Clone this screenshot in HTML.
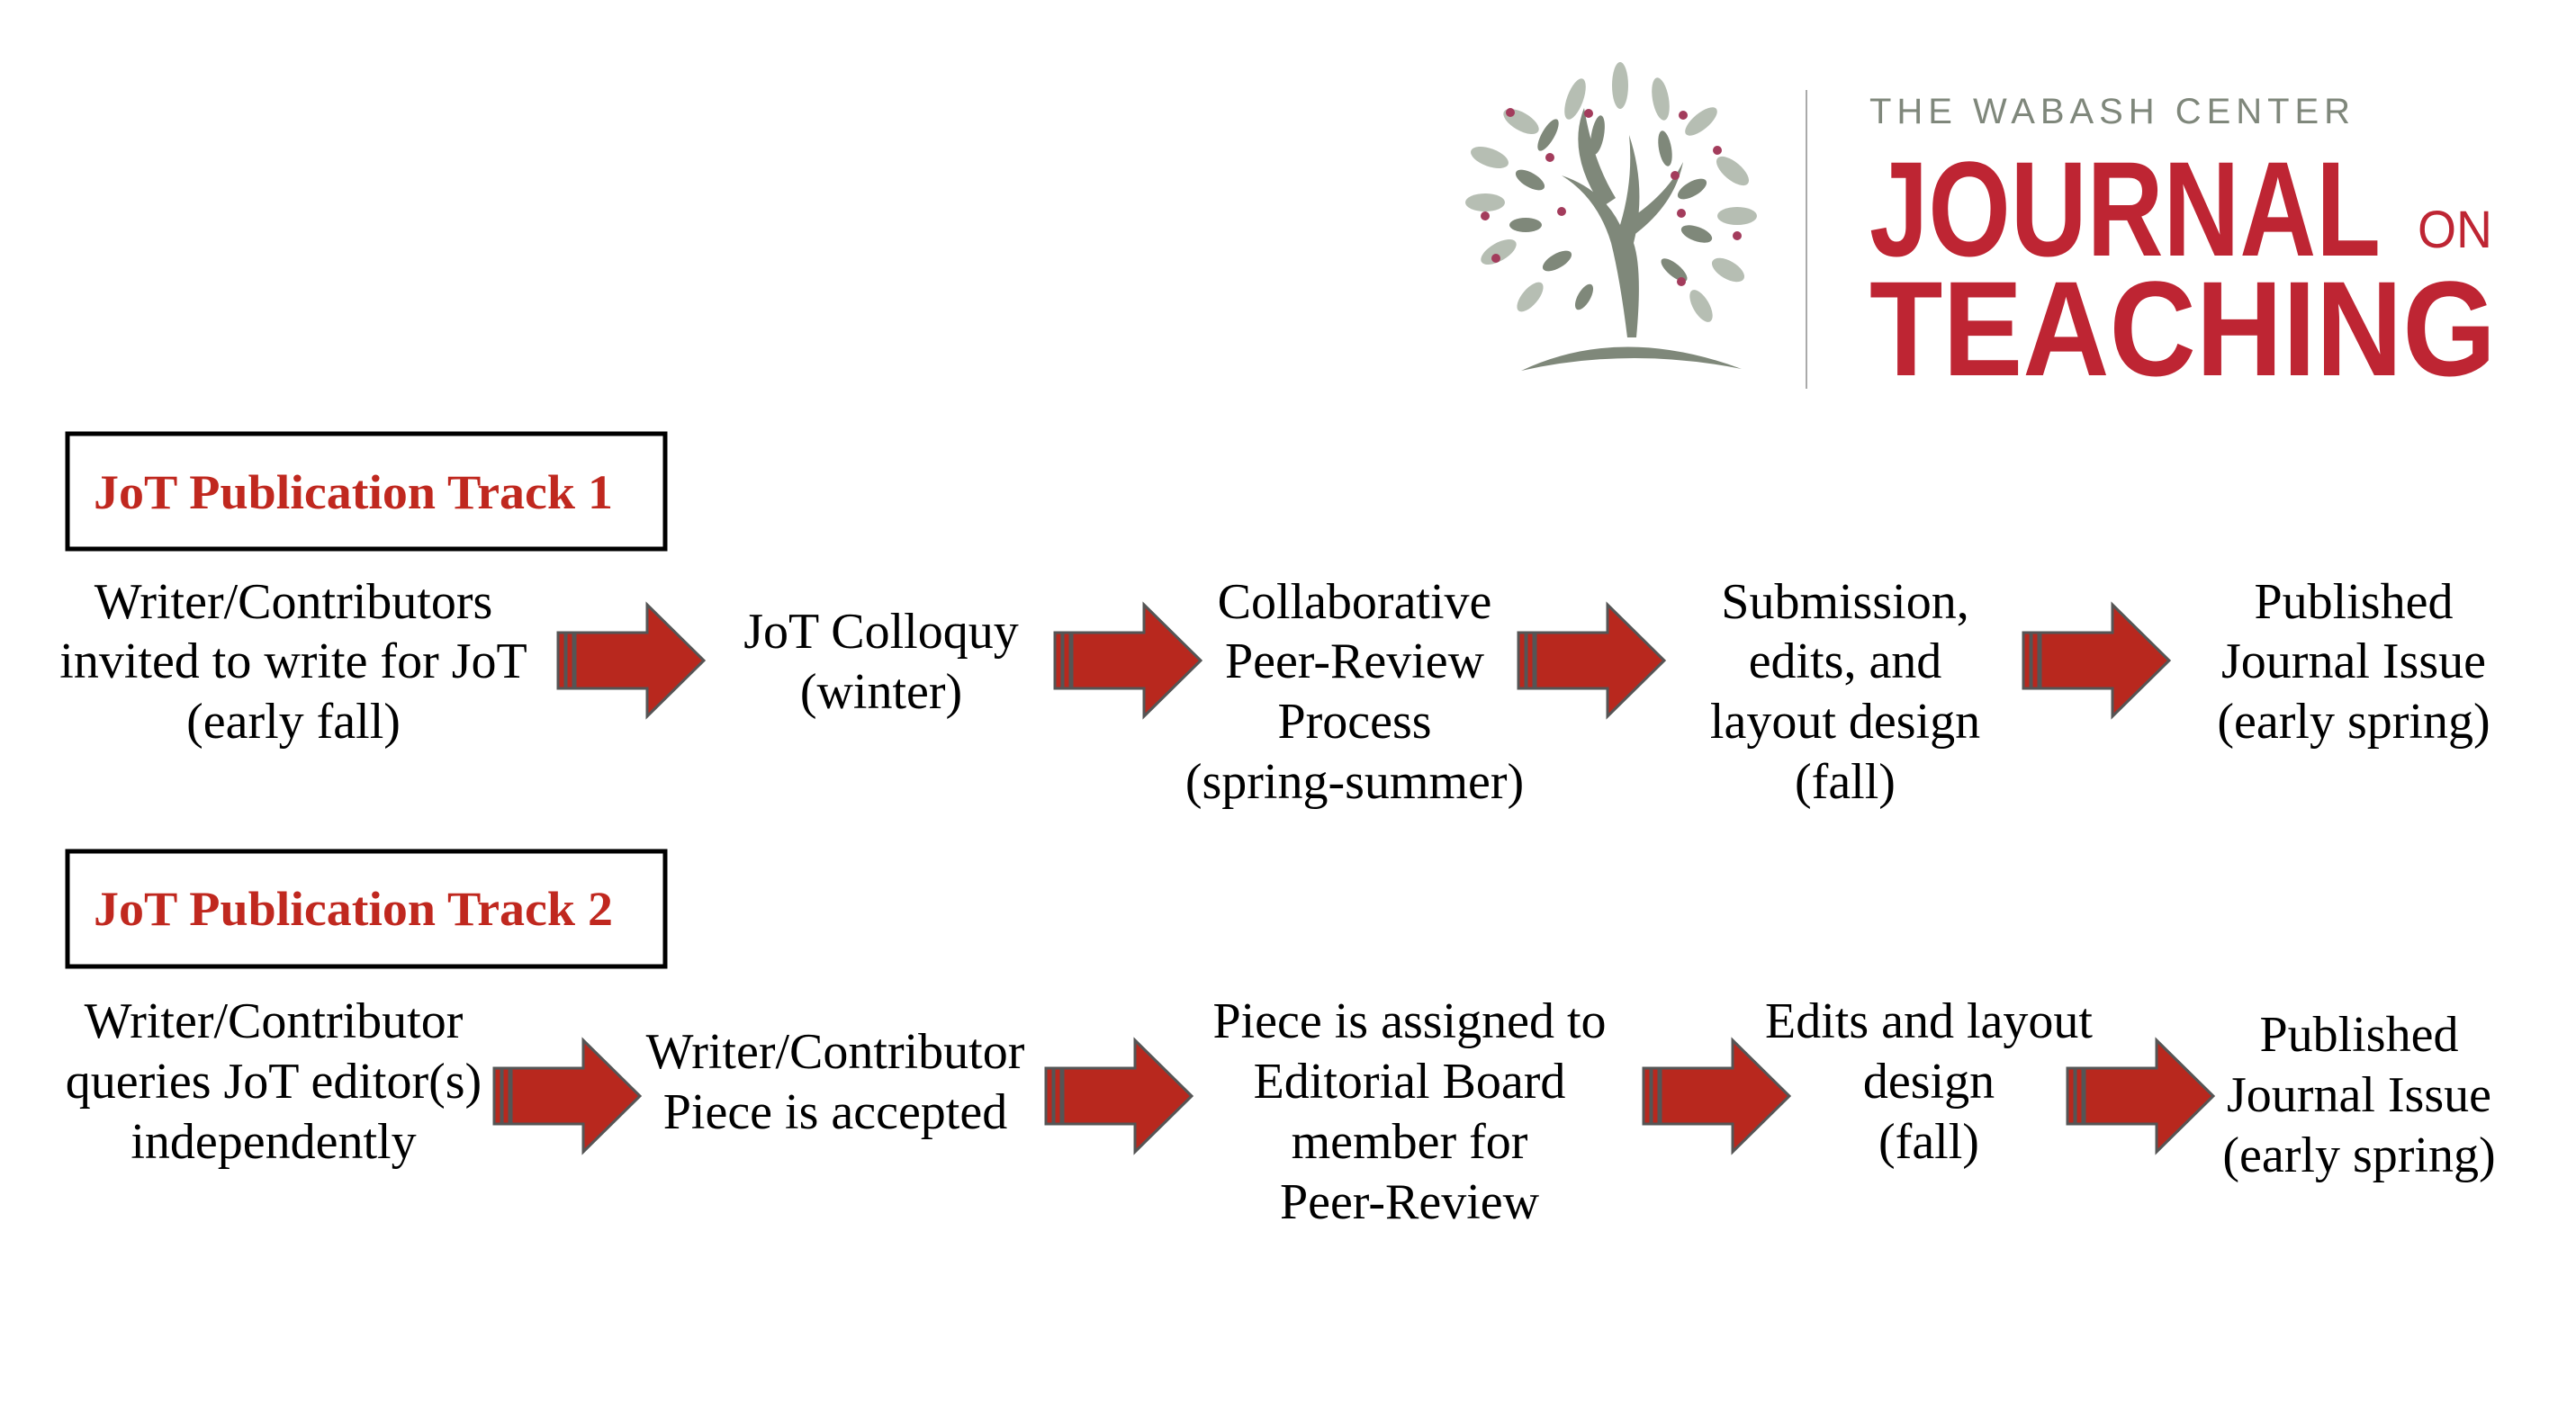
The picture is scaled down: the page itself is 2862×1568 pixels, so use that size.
<!DOCTYPE html>
<html><head><meta charset="utf-8"><style>
html,body{margin:0;padding:0;background:#fff;}
svg{display:block;}
.t{font-family:"Liberation Serif",serif;font-size:56px;fill:#000;text-anchor:middle;}
.h{font-family:"Liberation Serif",serif;font-size:54px;font-weight:bold;fill:#c0281f;}
</style></head><body>
<svg width="2862" height="1568" viewBox="0 0 2862 1568" xmlns="http://www.w3.org/2000/svg">
<defs>
<g id="arr">
<rect x="0" y="-31" width="8" height="62" fill="#b8281e" stroke="#555" stroke-width="3"/>
<rect x="9" y="-31" width="8" height="62" fill="#b8281e" stroke="#555" stroke-width="3"/>
<polygon points="19,-31 99,-31 99,-62 162,0 99,62 99,31 19,31" fill="#b8281e" stroke="#555" stroke-width="3"/>
</g>
</defs>
<!-- logo -->
<g>
<path d="M1690 412 Q1800 360 1935 410 Q1810 385 1690 412Z" fill="#7f887a"/>
<path d="M1808 375 Q1800 310 1790 270 Q1775 220 1735 195 Q1780 210 1800 250 Q1815 200 1810 150 Q1830 210 1815 270 Q1825 300 1818 375Z" fill="#7f887a"/>
<path d="M1800 250 Q1850 220 1870 180 Q1860 230 1810 265Z" fill="#7f887a"/>
<path d="M1780 230 Q1740 170 1760 120 Q1770 180 1795 220Z" fill="#7f887a"/>
<g fill="#b6beb3">
<ellipse cx="1690" cy="135" rx="22" ry="10" transform="rotate(30 1690 135)"/>
<ellipse cx="1750" cy="110" rx="24" ry="9" transform="rotate(-70 1750 110)"/>
<ellipse cx="1800" cy="95" rx="26" ry="9" transform="rotate(-90 1800 95)"/>
<ellipse cx="1845" cy="110" rx="24" ry="9" transform="rotate(-100 1845 110)"/>
<ellipse cx="1890" cy="135" rx="22" ry="9" transform="rotate(-40 1890 135)"/>
<ellipse cx="1655" cy="175" rx="22" ry="10" transform="rotate(20 1655 175)"/>
<ellipse cx="1925" cy="190" rx="22" ry="10" transform="rotate(40 1925 190)"/>
<ellipse cx="1650" cy="225" rx="22" ry="10"/>
<ellipse cx="1930" cy="240" rx="22" ry="10"/>
<ellipse cx="1665" cy="280" rx="22" ry="10" transform="rotate(-30 1665 280)"/>
<ellipse cx="1920" cy="300" rx="20" ry="10" transform="rotate(30 1920 300)"/>
<ellipse cx="1700" cy="330" rx="20" ry="9" transform="rotate(-50 1700 330)"/>
<ellipse cx="1890" cy="340" rx="20" ry="9" transform="rotate(60 1890 340)"/>
</g>
<g fill="#7f887a">
<ellipse cx="1720" cy="150" rx="20" ry="7" transform="rotate(-60 1720 150)"/>
<ellipse cx="1775" cy="150" rx="22" ry="7" transform="rotate(-80 1775 150)"/>
<ellipse cx="1850" cy="165" rx="20" ry="7" transform="rotate(-100 1850 165)"/>
<ellipse cx="1700" cy="200" rx="18" ry="8" transform="rotate(30 1700 200)"/>
<ellipse cx="1880" cy="210" rx="18" ry="8" transform="rotate(-30 1880 210)"/>
<ellipse cx="1695" cy="250" rx="18" ry="8"/>
<ellipse cx="1885" cy="260" rx="18" ry="8" transform="rotate(20 1885 260)"/>
<ellipse cx="1730" cy="290" rx="18" ry="8" transform="rotate(-30 1730 290)"/>
<ellipse cx="1860" cy="300" rx="18" ry="7" transform="rotate(40 1860 300)"/>
<ellipse cx="1760" cy="330" rx="16" ry="7" transform="rotate(-60 1760 330)"/>
</g>
<g fill="#a33c5c">
<circle cx="1678" cy="125" r="5"/><circle cx="1765" cy="126" r="5"/><circle cx="1870" cy="128" r="5"/>
<circle cx="1908" cy="167" r="5"/><circle cx="1722" cy="175" r="5"/><circle cx="1861" cy="195" r="5"/>
<circle cx="1650" cy="240" r="5"/><circle cx="1735" cy="235" r="5"/><circle cx="1868" cy="237" r="5"/>
<circle cx="1930" cy="262" r="5"/><circle cx="1662" cy="287" r="5"/><circle cx="1868" cy="313" r="5"/>
</g>
<rect x="2006" y="100" width="2" height="332" fill="#aaa"/>
<text x="2077" y="137" font-family="Liberation Sans,sans-serif" font-size="40" fill="#7f877b" letter-spacing="6" textLength="540" lengthAdjust="spacingAndGlyphs">THE WABASH CENTER</text>
<text x="2077" y="284" font-family="Liberation Sans,sans-serif" font-weight="bold" font-size="150" fill="#be2533" textLength="568" lengthAdjust="spacingAndGlyphs">JOURNAL</text>
<text x="2686" y="275" font-family="Liberation Sans,sans-serif" font-size="58" fill="#be2533" textLength="83" lengthAdjust="spacingAndGlyphs">ON</text>
<text x="2077" y="417" font-family="Liberation Sans,sans-serif" font-weight="bold" font-size="150" fill="#be2533" textLength="696" lengthAdjust="spacingAndGlyphs">TEACHING</text>
</g>
<!-- boxes -->
<rect x="75" y="482" width="664" height="128" fill="none" stroke="#000" stroke-width="5"/>
<text class="h" x="104" y="565" textLength="577" lengthAdjust="spacingAndGlyphs">JoT Publication Track 1</text>
<rect x="75" y="946" width="664" height="128" fill="none" stroke="#000" stroke-width="5"/>
<text class="h" x="104" y="1028" textLength="577" lengthAdjust="spacingAndGlyphs">JoT Publication Track 2</text>
<!-- track 1 -->
<text class="t" x="326" y="687">Writer/Contributors</text>
<text class="t" x="326" y="753">invited to write for JoT</text>
<text class="t" x="326" y="820">(early fall)</text>
<use href="#arr" x="620" y="734"/>
<text class="t" x="979" y="720">JoT Colloquy</text>
<text class="t" x="979" y="787">(winter)</text>
<use href="#arr" x="1172" y="734"/>
<text class="t" x="1505" y="687">Collaborative</text>
<text class="t" x="1505" y="753">Peer-Review</text>
<text class="t" x="1505" y="820">Process</text>
<text class="t" x="1505" y="887">(spring-summer)</text>
<use href="#arr" x="1687" y="734"/>
<text class="t" x="2050" y="687">Submission,</text>
<text class="t" x="2050" y="753">edits, and</text>
<text class="t" x="2050" y="820">layout design</text>
<text class="t" x="2050" y="887">(fall)</text>
<use href="#arr" x="2248" y="734"/>
<text class="t" x="2615" y="687">Published</text>
<text class="t" x="2615" y="753">Journal Issue</text>
<text class="t" x="2615" y="820">(early spring)</text>
<!-- track 2 -->
<text class="t" x="304" y="1153">Writer/Contributor</text>
<text class="t" x="304" y="1220">queries JoT editor(s)</text>
<text class="t" x="304" y="1287">independently</text>
<use href="#arr" x="549" y="1218"/>
<text class="t" x="928" y="1187">Writer/Contributor</text>
<text class="t" x="928" y="1254">Piece is accepted</text>
<use href="#arr" x="1162" y="1218"/>
<text class="t" x="1566" y="1153">Piece is assigned to</text>
<text class="t" x="1566" y="1220">Editorial Board</text>
<text class="t" x="1566" y="1287">member for</text>
<text class="t" x="1566" y="1354">Peer-Review</text>
<use href="#arr" x="1826" y="1218"/>
<text class="t" x="2143" y="1153">Edits and layout</text>
<text class="t" x="2143" y="1220">design</text>
<text class="t" x="2143" y="1287">(fall)</text>
<use href="#arr" x="2297" y="1218"/>
<text class="t" x="2621" y="1168">Published</text>
<text class="t" x="2621" y="1235">Journal Issue</text>
<text class="t" x="2621" y="1302">(early spring)</text>
</svg>
</body></html>
